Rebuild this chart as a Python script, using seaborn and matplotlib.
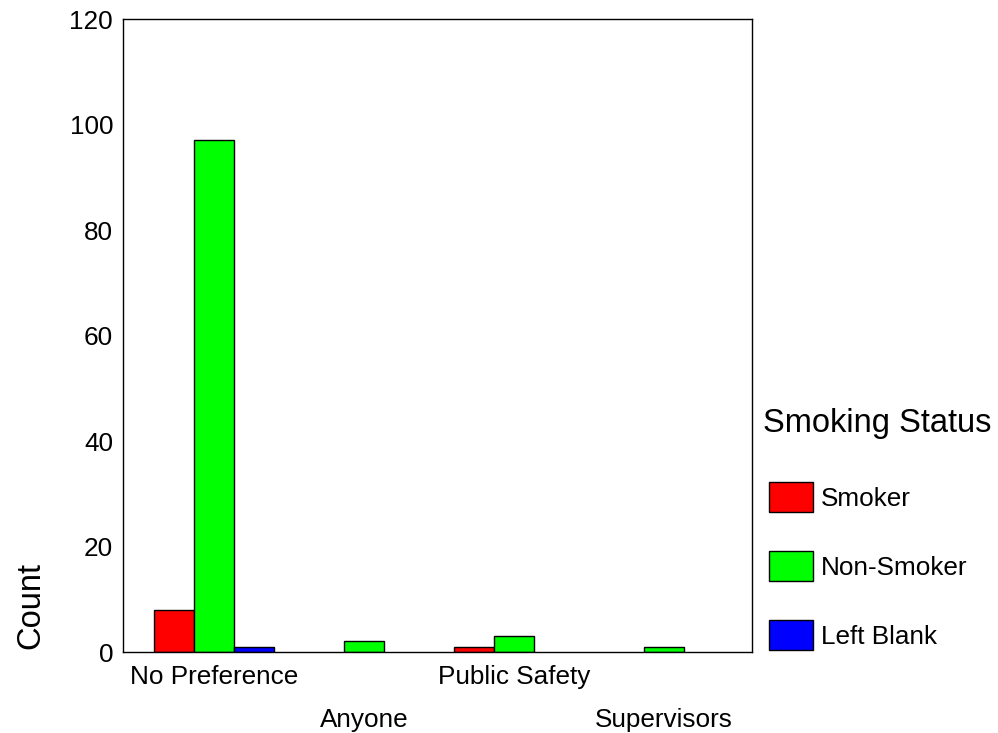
import pandas as pd
import matplotlib
matplotlib.use('Agg')
import matplotlib.pyplot as plt
import seaborn as sns

# data
categories = ['No Preference', 'Anyone', 'Public Safety', 'Supervisors']
statuses = ['Smoker', 'Non-Smoker', 'Left Blank']
smoker = [8, 0, 1, 0]
non_smoker = [97, 2, 3, 1]
left_blank = [1, 0, 0, 0]
y_ticks = [0, 20, 40, 60, 80, 100, 120]

colors = {'Smoker': '#FF0000', 'Non-Smoker': '#00FF00', 'Left Blank': '#0000FF'}

rows = []
for status, vals in zip(statuses, [smoker, non_smoker, left_blank]):
    for cat, v in zip(categories, vals):
        if v > 0:
            rows.append({'Category': cat, 'Status': status, 'Count': v})
df = pd.DataFrame(rows)

sns.set_style('white')
plt.rcParams['font.family'] = ['Liberation Sans', 'DejaVu Sans']

fig = plt.figure(figsize=(9.98, 7.33), dpi=100)
ax = fig.add_axes([0.123, 0.1105, 0.631, 0.8635])

sns.barplot(data=df, x='Category', y='Count', hue='Status', order=categories,
            hue_order=statuses, palette=colors, saturation=1, width=0.8,
            edgecolor='black', linewidth=1, ax=ax, legend=True)

ax.set_xlim(-0.61, 3.59)
ax.set_ylim(0, 120)
ax.set_yticks(y_ticks)
for s in ax.spines.values():
    s.set_color('black')
    s.set_linewidth(1)
ax.tick_params(axis='both', direction='out', length=5, width=1, color='black',
               labelsize=18.8, labelcolor='black')
ax.tick_params(axis='x', pad=4)
ax.tick_params(axis='y', pad=2)
for i, t in enumerate(ax.xaxis.get_major_ticks()):
    if i % 2 == 1:
        t.set_pad(35)

ax.set_xlabel('')
ax.set_ylabel('Count', fontsize=23.5, color='black')
ax.yaxis.set_label_coords(-0.121, 0.074)

# legend title drawn separately so it sits a little left of the swatches
fig.text(0.7645, 1 - 432 / 733, 'Smoking Status', fontsize=23.5,
         color='black', ha='left', va='baseline')

handles, labels = ax.get_legend_handles_labels()
leg = ax.legend(handles, labels, loc='upper left',
                bbox_to_anchor=(0.7705, 1 - 482 / 733), bbox_transform=fig.transFigure,
                frameon=False, fontsize=18.8,
                handlelength=1.7, handleheight=1.39, labelspacing=1.5,
                handletextpad=0.28, borderaxespad=0, borderpad=0,
                labelcolor='black')

plt.savefig('out.png', dpi=100)
